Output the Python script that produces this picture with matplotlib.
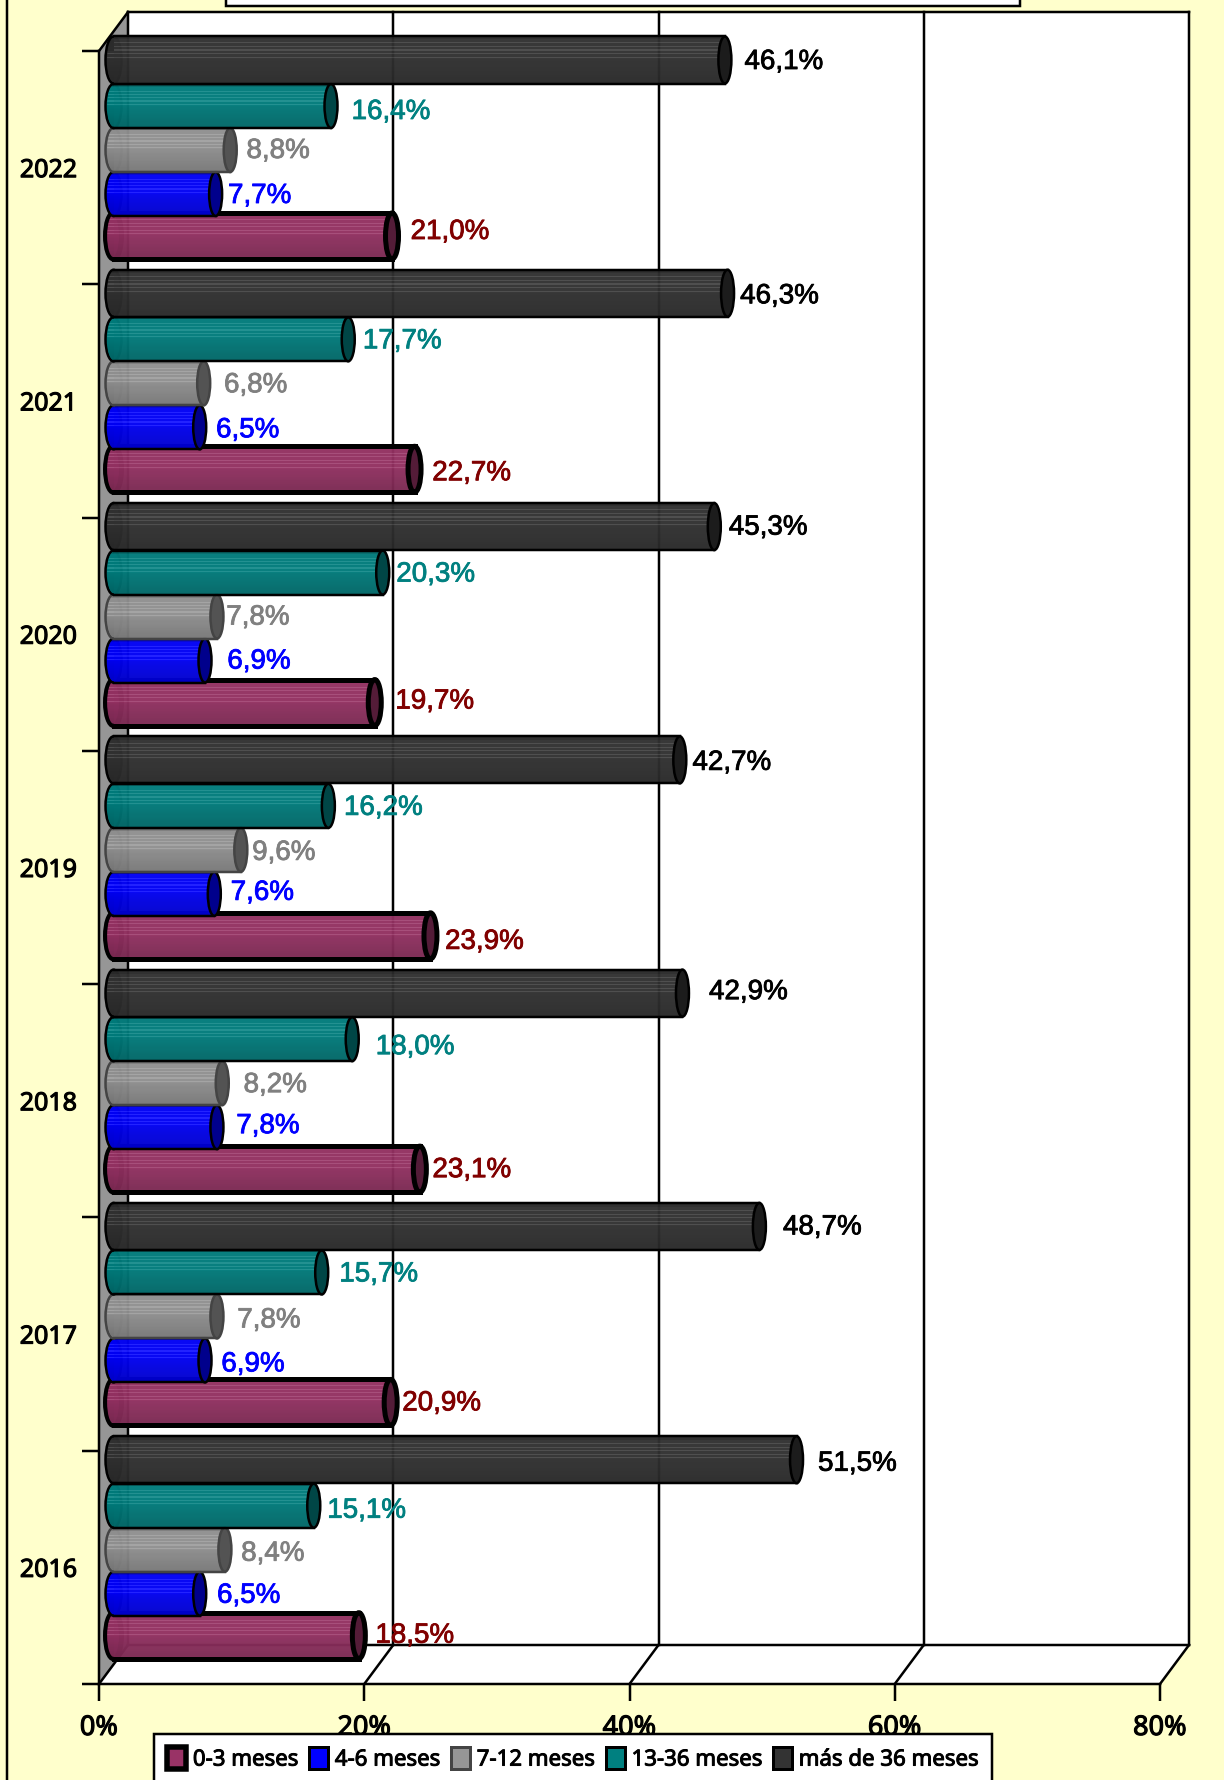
import numpy as np
import matplotlib
matplotlib.use('Agg')
import matplotlib.pyplot as plt
import matplotlib.patheffects as pe
from matplotlib.patches import Ellipse, Polygon, Rectangle

# Data
years = ['2016', '2017', '2018', '2019', '2020', '2021', '2022']
series = ['0-3 meses', '4-6 meses', '7-12 meses', '13-36 meses', 'más de 36 meses']
meses_0_3 = [18.5, 20.9, 23.1, 23.9, 19.7, 22.7, 21.0]
meses_4_6 = [6.5, 6.9, 7.8, 7.6, 6.9, 6.5, 7.7]
meses_7_12 = [8.4, 7.8, 8.2, 9.6, 7.8, 6.8, 8.8]
meses_13_36 = [15.1, 15.7, 18.0, 16.2, 20.3, 17.7, 16.4]
meses_36_mas = [51.5, 48.7, 42.9, 42.7, 45.3, 46.3, 46.1]
values = [meses_0_3, meses_4_6, meses_7_12, meses_13_36, meses_36_mas]

colors = ['#993366', '#0000FF', '#969696', '#008080', '#333333']
text_colors = ['#800000', '#0000FF', '#808080', '#008080', '#000000']
edge_colors = ['#000000', '#000000', '#444444', '#000000', '#000000']
edge_px = [5, 2.5, 2.5, 2.5, 2.5]

# label offsets by hand, in px from the end of each bar (2016 first)
label_dx = [[55, 50, 51, 53, 59, 56, 57],
            [48, 47, 50, 47, 53, 47, 43],
            [47, 51, 52, 42, 40, 51, 47],
            [52, 56, 62, 54, 52, 53, 59],
            [60, 62, 65, 51, 53, 51, 58]]
label_dy = [[-2, -1, -1, 4, -3, 2, -6],
            [0, 2, -3, -3, -1, 1, 0],
            [2, 2, 0, 1, -1, 0, -1],
            [3, 0, 6, 0, 0, 0, 4],
            [2, -1, -3, 1, -1, 1, 0]]

W, H = 1224, 1780
px = 0.72  # points per pixel at dpi 100
bg = '#FFFFCC'

# front plane of the 3d box in pixels
x_left, x_right, y_top, y_bot = 99, 1160, 51, 1684
px_x = (x_right - x_left) / 80
px_y = (y_bot - y_top) / 7
back_x = 29 / px_x
back_y = 39 / px_y
bar_left = 14.5 / px_x
bar_y = [185 / px_y, 143 / px_y, 99 / px_y, 55 / px_y, 9 / px_y]
bar_h = [46 / px_y, 44 / px_y, 44 / px_y, 44 / px_y, 47 / px_y]
cap_w = 13 / px_x
left_w = 16 / px_x

fig = plt.figure(figsize=(W / 100, H / 100), dpi=100, facecolor=bg)
ax = fig.add_axes([x_left / W, 1 - y_bot / H, (x_right - x_left) / W, (y_bot - y_top) / H])
ax.patch.set_alpha(0)
for s in ax.spines.values():
    s.set_visible(False)

# frame line at the left and the title box cut by the top edge
fig.add_artist(plt.Line2D([7 / W, 7 / W], [0, 1], color='black', lw=2.5 * px))
fig.add_artist(Rectangle((226 / W, 6 / H + 1 - 12 / H), 794 / W, 12 / H, transform=fig.transFigure,
                         fc='white', ec='black', lw=2.5 * px))

# walls
line = dict(color='black', lw=2.5 * px, clip_on=False, zorder=2)
ax.add_patch(Polygon([(back_x, back_y), (80 + back_x, back_y), (80 + back_x, 7 + back_y), (back_x, 7 + back_y)],
                     fc='white', ec='none', clip_on=False, zorder=1))
ax.add_patch(Polygon([(0, 0), (80, 0), (80 + back_x, back_y), (back_x, back_y)],
                     fc='white', ec='none', clip_on=False, zorder=1))
ax.add_patch(Polygon([(0, 0), (back_x, back_y), (back_x, 7 + back_y), (0, 7)],
                     fc='#969696', ec='none', clip_on=False, zorder=1))
ax.plot([0, 0], [0, 7], **line)
ax.plot([0, 80], [0, 0], **line)
ax.plot([0, back_x], [7, 7 + back_y], **line)
ax.plot([back_x, 80 + back_x], [7 + back_y, 7 + back_y], **line)
ax.plot([back_x, 80 + back_x], [back_y, back_y], **line)
for t in [0, 20, 40, 60, 80]:
    ax.plot([t, t + back_x], [0, back_y], **line)
    ax.plot([t + back_x, t + back_x], [back_y, 7 + back_y], **line)


def shade(c, f):
    rgb = np.array(matplotlib.colors.to_rgb(c))
    if f > 1:
        return rgb + (1 - rgb) * (f - 1)
    return rgb * f


# one cylinder: flat bar, banded shading on it, round ends
z = 3
rows = np.linspace(0, 1, 40)
bands = np.where(rows < 0.5, 0.95, 0.92 - 0.3 * (rows - 0.5))
bands = np.where(rows < 0.06, 0.8, bands)
bands = [1.12 if 0.12 < r < 0.5 and int(r * 40) % 3 == 0 else b for r, b in zip(rows, bands)]
for i in range(len(years)):
    for k in range(len(series)):
        v = values[k][i]
        y = i + 1 - bar_y[k]
        h = bar_h[k]
        c = colors[k]
        e = edge_colors[k]
        lw = edge_px[k] * px
        img = np.array([[shade(c, b)] for b in bands])
        z += 1
        left_cap = Ellipse((bar_left, y), left_w, h, fc=shade(c, 0.85), ec=e, lw=lw, clip_on=False, zorder=z)
        ax.add_patch(left_cap)
        im = ax.imshow(img, extent=(bar_left - left_w / 2, bar_left, y - h / 2, y + h / 2), origin='upper',
                       aspect='auto', interpolation='nearest', zorder=z + 0.05)
        im.set_clip_path(Ellipse((bar_left, y), left_w * 0.8, h * 0.92, transform=ax.transData))
        ax.barh(y, v, height=h, left=bar_left, color=matplotlib.colors.to_rgba(c, 0.75), edgecolor='none',
                clip_on=False, zorder=z + 0.1)
        ax.imshow(img, extent=(bar_left, bar_left + v, y - h / 2, y + h / 2), origin='upper',
                  aspect='auto', interpolation='nearest', zorder=z + 0.2, alpha=0.85, clip_on=False)
        ax.plot([bar_left, bar_left + v], [y + h / 2, y + h / 2], color=e, lw=lw, clip_on=False, zorder=z + 0.25)
        ax.plot([bar_left, bar_left + v], [y - h / 2, y - h / 2], color=e, lw=lw, clip_on=False, zorder=z + 0.25)
        ax.add_patch(Ellipse((bar_left + v, y), cap_w, h, fc=shade(c, 0.55), ec=e, lw=lw,
                             clip_on=False, zorder=z + 0.3))

# labels on top of everything
for k in range(len(series)):
    for i in range(len(years)):
        v = values[k][i]
        ax.annotate(f'{v:.1f}%'.replace('.', ','), (bar_left + v, i + 1 - bar_y[k]),
                    xytext=((label_dx[k][i] + 1) * px, -(label_dy[k][i] + 2) * px), textcoords='offset points',
                    ha='center', va='center', color=text_colors[k], fontsize=20, zorder=200,
                    family='Liberation Sans', annotation_clip=False,
                    path_effects=[pe.withStroke(linewidth=0.6, foreground=text_colors[k])])

# axes and ticks
bold = [pe.withStroke(linewidth=0.8, foreground='black')]
ax.set_xlim(0, 80)
ax.set_ylim(0, 7)
ax.set_xticks([0, 20, 40, 60, 80])
ax.set_xticklabels(['0%', '20%', '40%', '60%', '80%'], fontsize=19.5, family='Noto Sans', path_effects=bold)
ax.set_yticks(np.arange(7) + 0.5)
ax.set_yticklabels(years, fontsize=18, family='Noto Sans', path_effects=bold)
ax.set_yticks(np.arange(8), minor=True)
ax.tick_params(axis='x', length=17 * px, width=2.5 * px, pad=13 * px)
ax.tick_params(axis='y', which='major', length=0, pad=22 * px)
ax.tick_params(axis='y', which='minor', length=17 * px, width=2.5 * px)

# legend, its bottom runs off the figure
handles = [Rectangle((0, 0), 1, 1, fc=colors[k], ec=edge_colors[k], lw=(edge_px[k] + 0.5) * px) for k in range(len(series))]
leg = fig.legend(handles, series, loc='upper left', bbox_to_anchor=(154 / W, 1 - 1734 / H), ncol=5,
                 prop={'family': 'Noto Sans', 'size': 16}, fancybox=False, edgecolor='black', framealpha=1,
                 borderaxespad=0, handlelength=0.85, handleheight=1.1, handletextpad=0.3, columnspacing=0.5,
                 borderpad=0.6)
leg.get_frame().set_linewidth(2.5 * px)
for t in leg.get_texts():
    t.set_path_effects([pe.withStroke(linewidth=0.7, foreground='black')])

fig.savefig('out.png', dpi=100, facecolor=bg)
